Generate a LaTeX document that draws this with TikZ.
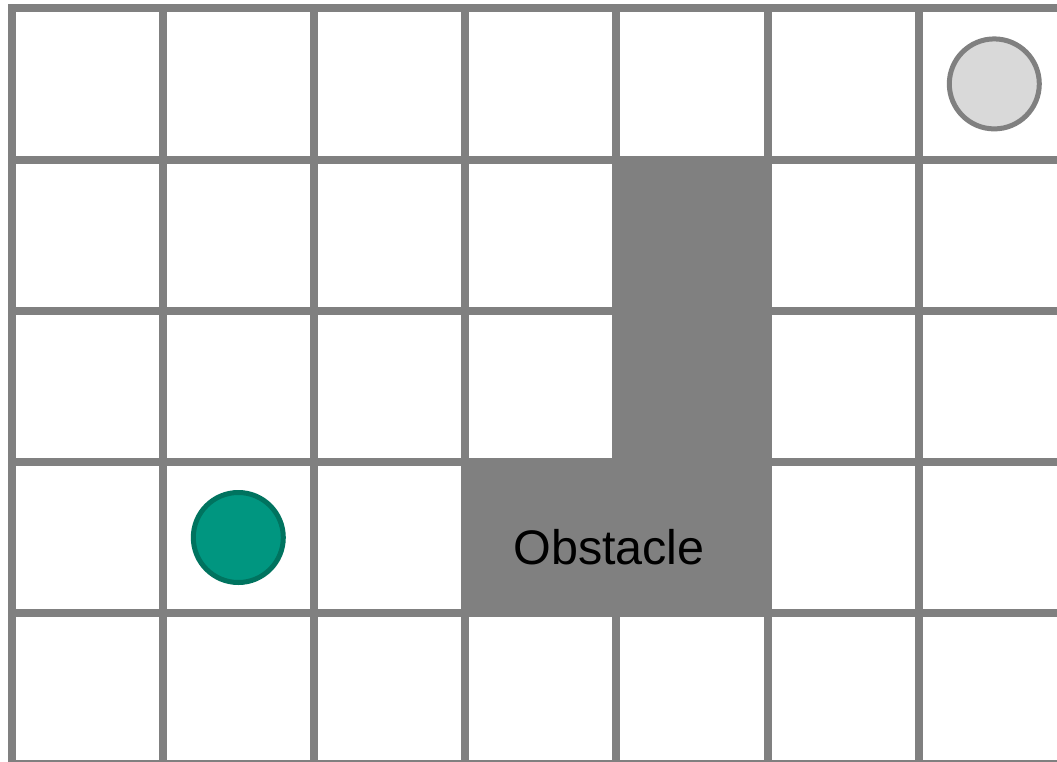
\documentclass[tikz,border=0pt]{standalone}
\usepackage{fontspec}
\setmainfont{Liberation Sans}
\definecolor{gridgray}{RGB}{128,128,128}
\definecolor{agentfill}{RGB}{0,150,128}
\definecolor{agentline}{RGB}{0,115,95}
\definecolor{goalfill}{RGB}{217,217,217}
\tikzset{
  gridline/.style={draw=gridgray, line width=8pt, line cap=rect},
  obstacle/.style={fill=gridgray, draw=gridgray, line width=8pt},
  agent/.style={circle, fill=agentfill, draw=agentline, line width=5pt, minimum size=90pt, inner sep=0pt},
  goal/.style={circle, fill=goalfill, draw=gridgray, line width=5pt, minimum size=90pt, inner sep=0pt},
  label/.style={font=\fontsize{48.5}{58}\selectfont, text=black}
}
\begin{document}
\begin{tikzpicture}[x=1pt,y=-1pt]
\useasboundingbox (0,0) rectangle (1057,761);
\fill[white] (0,0) rectangle (1057,761);
\begin{scope}
\clip (0,0) rectangle (1057,761);
\foreach \i in {0,...,7} {
  \draw[gridline] ({11.5+151.2*\i}, 8.3) -- ({11.5+151.2*\i}, {8.3+151.2*5});
}
\foreach \j in {0,...,5} {
  \draw[gridline] (11.5, {8.3+151.2*\j}) -- ({11.5+151.2*7}, {8.3+151.2*\j});
}
\draw[obstacle] ({11.5+151.2*4}, {8.3+151.2*1}) -- ({11.5+151.2*5}, {8.3+151.2*1})
  -- ({11.5+151.2*5}, {8.3+151.2*4}) -- ({11.5+151.2*3}, {8.3+151.2*4})
  -- ({11.5+151.2*3}, {8.3+151.2*3}) -- ({11.5+151.2*4}, {8.3+151.2*3}) -- cycle;
\end{scope}
\node[label] (obs) at (609,547) {Obstacle};
\node[goal] (goalpos) at ({11.5+151.2*6.5}, {8.3+151.2*0.5}) {};
\node[agent] (agentpos) at ({11.5+151.2*1.5}, {8.3+151.2*3.5}) {};
\end{tikzpicture}
\end{document}
